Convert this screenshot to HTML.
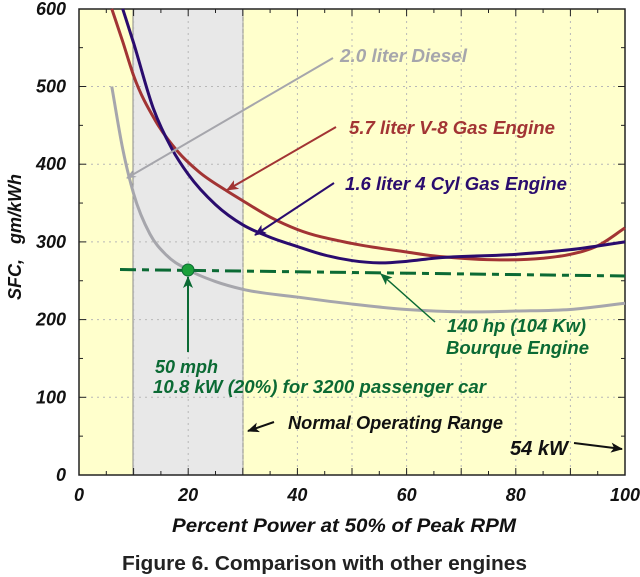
<!DOCTYPE html>
<html><head><meta charset="utf-8">
<style>
html,body{margin:0;padding:0;background:#fff;}
svg{display:block;}
text{font-family:"Liberation Sans",Arial,sans-serif;font-weight:bold;font-style:italic;}
</style></head>
<body>
<svg id="s" width="640" height="577" viewBox="0 0 640 577" xmlns="http://www.w3.org/2000/svg">
<defs>
<marker id="ag" markerWidth="10" markerHeight="8" refX="9" refY="4" orient="auto" markerUnits="userSpaceOnUse"><path d="M0,0 L10,4 L0,8 L3,4 Z" fill="#a6a6ac"/></marker>
<marker id="ar" markerWidth="12" markerHeight="10" refX="11" refY="5" orient="auto" markerUnits="userSpaceOnUse"><path d="M0,0 L12,5 L0,10 L3,5 Z" fill="#a23434"/></marker>
<marker id="ab" markerWidth="12" markerHeight="10" refX="11" refY="5" orient="auto" markerUnits="userSpaceOnUse"><path d="M0,0 L12,5 L0,10 L3,5 Z" fill="#2a0c6e"/></marker>
<marker id="agr" markerWidth="12" markerHeight="10" refX="11" refY="5" orient="auto" markerUnits="userSpaceOnUse"><path d="M0,0 L12,5 L0,10 L3,5 Z" fill="#0b6a34"/></marker>
<marker id="ak" markerWidth="12" markerHeight="10" refX="11" refY="5" orient="auto" markerUnits="userSpaceOnUse"><path d="M0,0 L12,5 L0,10 L3,5 Z" fill="#111"/></marker>
</defs>
<rect x="79" y="9" width="546" height="466" fill="#ffffcc"/>
<rect x="133" y="9" width="110" height="466" fill="#e8e8e8" stroke="#8a8a8a" stroke-width="1"/>
<g id="grid" stroke="#b8b8b8" stroke-width="1" stroke-dasharray="2,4"></g>
<g id="ticks" stroke="#222" stroke-width="1"></g>
<rect x="79" y="9" width="546" height="466" fill="none" stroke="#222" stroke-width="1.5"/>
<g id="curves" fill="none"></g>
<line x1="120" y1="269.5" x2="625" y2="276" stroke="#0b6a34" stroke-width="3" stroke-dasharray="16,6,7,6"/>
<circle cx="188" cy="270" r="6" fill="#1aa03a" stroke="#0b6a34" stroke-width="1"/>
<line x1="188" y1="352" x2="188" y2="277" stroke="#0b6a34" stroke-width="2" marker-end="url(#agr)"/>
<line x1="333" y1="58" x2="127" y2="178" stroke="#a6a6ac" stroke-width="2" marker-end="url(#ag)"/>
<line x1="336" y1="127" x2="227" y2="190" stroke="#a23434" stroke-width="2" marker-end="url(#ar)"/>
<line x1="334" y1="183" x2="255" y2="235" stroke="#2a0c6e" stroke-width="2" marker-end="url(#ab)"/>
<line x1="435" y1="322" x2="381" y2="274" stroke="#0b6a34" stroke-width="1.5" marker-end="url(#agr)"/>
<line x1="274" y1="422" x2="248" y2="431" stroke="#111" stroke-width="2" marker-end="url(#ak)"/>
<line x1="574" y1="443" x2="622" y2="449" stroke="#111" stroke-width="2" marker-end="url(#ak)"/>
<text x="340" y="62" font-size="18" fill="#a6a6ac" textLength="127" lengthAdjust="spacingAndGlyphs">2.0 liter Diesel</text>
<text x="349" y="134" font-size="18" fill="#a23434" textLength="206" lengthAdjust="spacingAndGlyphs">5.7 liter V-8 Gas Engine</text>
<text x="345" y="190" font-size="18" fill="#2a0c6e" textLength="222" lengthAdjust="spacingAndGlyphs">1.6 liter 4 Cyl Gas Engine</text>
<text x="447" y="332" font-size="18" fill="#0b6a34" textLength="139" lengthAdjust="spacingAndGlyphs">140 hp (104 Kw)</text>
<text x="446" y="354" font-size="18" fill="#0b6a34" textLength="143" lengthAdjust="spacingAndGlyphs">Bourque Engine</text>
<text x="155" y="373" font-size="18" fill="#0b6a34" textLength="63" lengthAdjust="spacingAndGlyphs">50 mph</text>
<text x="153" y="393" font-size="18" fill="#0b6a34" textLength="333" lengthAdjust="spacingAndGlyphs">10.8 kW (20%) for 3200 passenger car</text>
<text x="288" y="429" font-size="18" fill="#111" textLength="215" lengthAdjust="spacingAndGlyphs">Normal Operating Range</text>
<text x="510" y="455" font-size="20" fill="#111" textLength="58" lengthAdjust="spacingAndGlyphs">54 kW</text>
<g id="labels" font-size="18" fill="#111"></g>
<text x="172" y="532" font-size="19" fill="#111" textLength="344" lengthAdjust="spacingAndGlyphs">Percent Power at 50% of Peak RPM</text>
<text transform="translate(21,237) rotate(-90)" font-size="18" fill="#111" text-anchor="middle">SFC,&#160;&#160;&#160;gm/kWh</text>
<text x="122" y="570" font-size="20" fill="#222" style="font-style:normal" textLength="405" lengthAdjust="spacingAndGlyphs">Figure 6.  Comparison with other engines</text>
</svg>
<script>
var NS="http://www.w3.org/2000/svg";
function X(v){return 79+v*5.46;}
function Y(v){return 475-v*0.777;}
function el(p,t,a){var e=document.createElementNS(NS,t);for(var k in a)e.setAttribute(k,a[k]);document.getElementById(p).appendChild(e);return e;}
for(var i=1;i<10;i++){var xv=i*10;el("grid","line",{x1:X(xv),y1:9,x2:X(xv),y2:475});}
for(var j=1;j<6;j++){var yv=j*100;el("grid","line",{x1:79,y1:Y(yv),x2:625,y2:Y(yv)});}
for(var i=1;i<20;i++){var xv=i*5;var l=(i%2==0)?7:4;el("ticks","line",{x1:X(xv),y1:475,x2:X(xv),y2:475-l});el("ticks","line",{x1:X(xv),y1:9,x2:X(xv),y2:9+l});}
for(var j=1;j<12;j++){var yv=j*50;var l=(j%2==0)?7:4;el("ticks","line",{x1:79,y1:Y(yv),x2:79+l,y2:Y(yv)});el("ticks","line",{x1:625,y1:Y(yv),x2:625-l,y2:Y(yv)});}
for(var i=0;i<=5;i++){var t=el("labels","text",{x:X(i*20),y:501,"text-anchor":"middle"});t.textContent=String(i*20);}
for(var j=0;j<=6;j++){var t=el("labels","text",{x:66,y:Y(j*100)+6,"text-anchor":"end"});t.textContent=String(j*100);}
function path(pts){
var n=pts.length,h=[],d=[],m=[];
for(var i=0;i<n-1;i++){h[i]=pts[i+1][0]-pts[i][0];d[i]=(pts[i+1][1]-pts[i][1])/h[i];}
m[0]=d[0];m[n-1]=d[n-2];
for(var i=1;i<n-1;i++){m[i]=(d[i-1]*h[i]+d[i]*h[i-1])/(h[i-1]+h[i]);}
var s="M"+X(pts[0][0])+","+Y(pts[0][1]);
for(var i=0;i<n-1;i++){var x0=pts[i][0],y0=pts[i][1],x1=pts[i+1][0],y1=pts[i+1][1],hh=h[i]/3;
s+=" C"+X(x0+hh)+","+Y(y0+m[i]*hh)+" "+X(x1-hh)+","+Y(y1-m[i+1]*hh)+" "+X(x1)+","+Y(y1);}
return s;}
var diesel=[[6,500],[8,420],[10,362],[13,310],[16,283],[20,264],[25,249],[30,239],[40,229],[50,220],[60,213],[71,210],[80,211],[90,213],[100,221]];
var v8=[[6,600],[8,558],[10,514],[14,456],[18,417],[22,390],[27,366],[30,353],[35,332],[40,316],[50,298],[60,287],[65,282],[70,279],[76,277],[85,279],[90,284],[95,295],[100,318]];
var cyl=[[8,600],[10,556],[13.6,472],[17,420],[20,387],[25,348],[30,322],[35,306],[40,294],[45,283],[50,276],[55,273],[60,275],[65,279],[80,284],[90,290],[100,300]];
el("curves","path",{d:path(diesel),stroke:"#a6a6ac","stroke-width":3});
el("curves","path",{d:path(v8),stroke:"#a23434","stroke-width":3});
el("curves","path",{d:path(cyl),stroke:"#2a0c6e","stroke-width":3});
</script>
</body></html>
